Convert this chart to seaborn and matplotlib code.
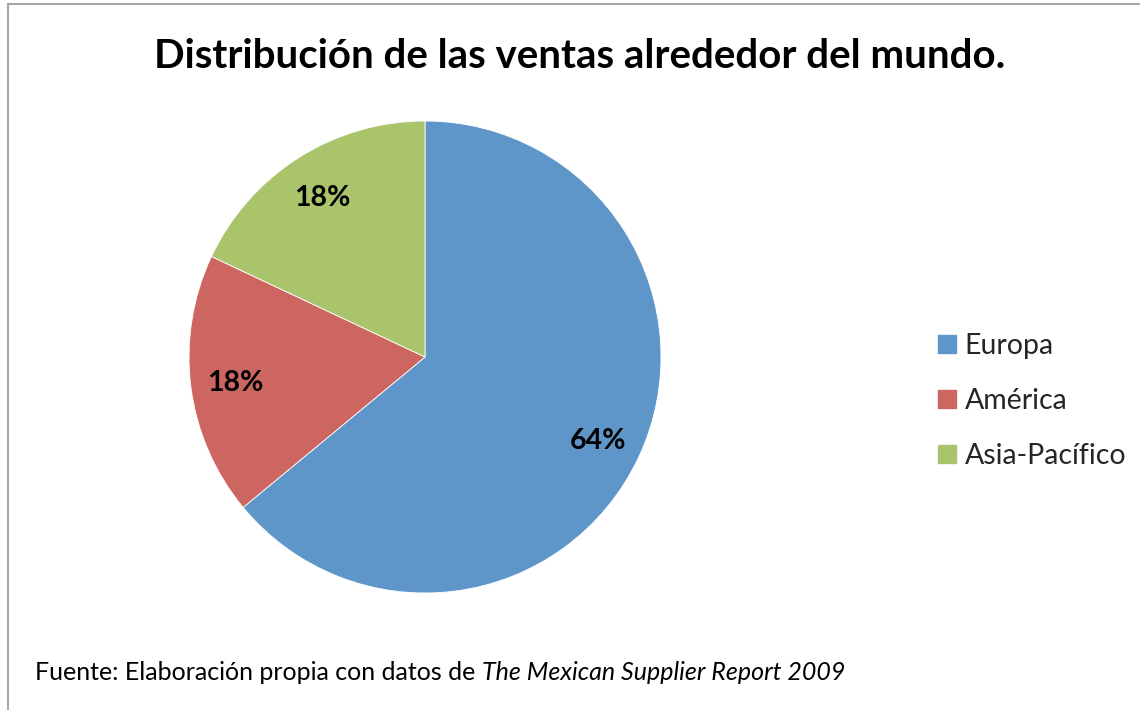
import matplotlib
matplotlib.use("Agg")
import matplotlib.pyplot as plt
from matplotlib.patches import Rectangle
from matplotlib.lines import Line2D
import seaborn as sns

# Sales share by region
regions = ["Europa", "América", "Asia-Pacífico"]
shares = [64, 18, 18]
colors = ["#5F96C9", "#CD6660", "#A9C46B"]

title = "Distribución de las ventas alrededor del mundo."
source_prefix = "Fuente: Elaboración propia con datos de "
source_title = "The Mexican Supplier Report 2009"

sns.set_theme(style="white")
plt.rcParams["font.family"] = ["Lato", "DejaVu Sans"]

W, H = 1140, 710
fig = plt.figure(figsize=(W / 100, H / 100), dpi=100)
fig.patch.set_facecolor("white")

# Outer frame (only top and left edges fall inside the canvas)
fig.patches.append(Rectangle((8 / W, -0.05), 1.2, 1 - 4 / H + 0.05,
                             transform=fig.transFigure, fill=False,
                             edgecolor="#A6A6A6", linewidth=1.5))

cx, cy, r = 425, 357, 236
ax = fig.add_axes([(cx - r) / W, (H - cy - r) / H, 2 * r / W, 2 * r / H])
wedges, _, autotexts = ax.pie(
    shares, colors=colors, startangle=90, counterclock=False,
    autopct=lambda p: f"{p:.0f}%", pctdistance=0.81, radius=1,
    wedgeprops=dict(linewidth=0.6, edgecolor="white"),
    textprops=dict(fontsize=20.5, fontweight="bold", color="black"))
for t in autotexts:
    t.set_va("center_baseline")
ax.set_xlim(-1, 1)
ax.set_ylim(-1, 1)
ax.set_aspect("equal")
ax.axis("off")

fig.text(580 / W, 1 - 56 / H, title, ha="center", va="center",
         fontsize=29, fontweight="bold", color="black")

handles = [Line2D([], [], marker="s", linestyle="none", markersize=12.5,
                  markerfacecolor=c, markeredgecolor=c) for c in colors]
fig.legend(handles, regions, loc="center left",
           bbox_to_anchor=(938 / W, 1 - 401 / H), frameon=False,
           fontsize=20.5, handlelength=0.6, handletextpad=0.33,
           labelspacing=1.02, borderpad=0, borderaxespad=0)

src = fig.text(35 / W, 1 - 672 / H, source_prefix, ha="left", va="center",
               fontsize=18, color="black")
fig.canvas.draw()
bb = src.get_window_extent()
fig.text(bb.x1 / W, 1 - 672 / H, source_title, ha="left", va="center",
         fontsize=18, color="black", style="italic")

fig.savefig("out.png", dpi=100, facecolor="white")
